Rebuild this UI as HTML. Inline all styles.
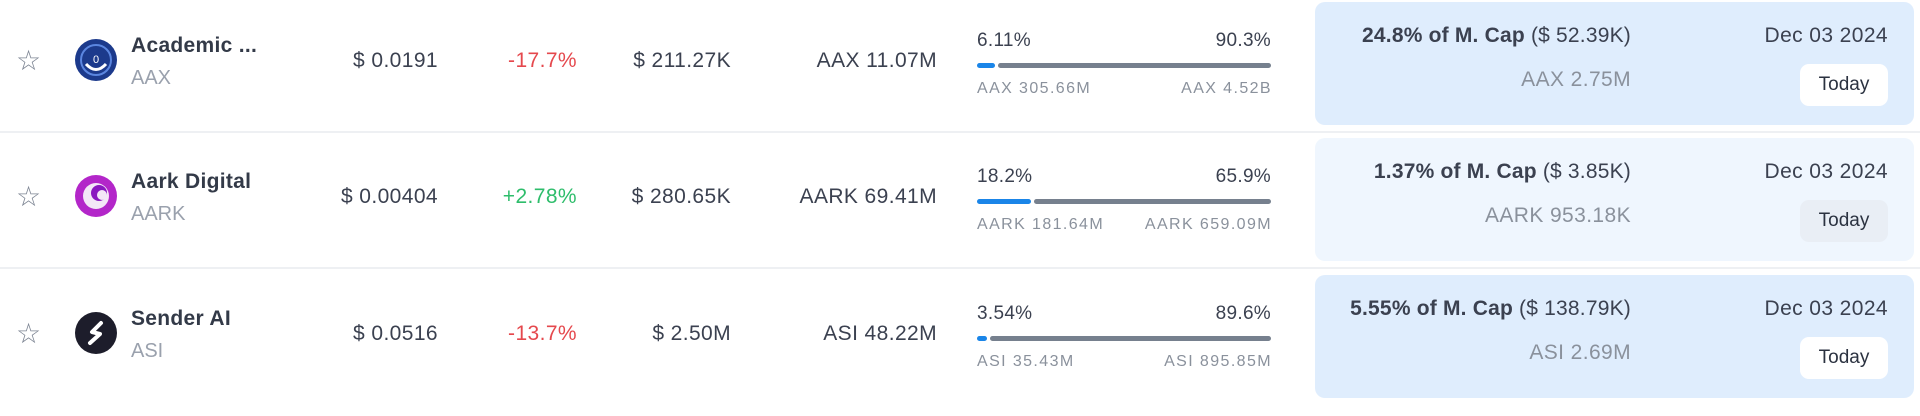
<!DOCTYPE html>
<html><head><meta charset="utf-8"><style>
body{margin:0;width:1920px;height:416px;background:#fff;font-family:"Liberation Sans",sans-serif;position:relative;overflow:hidden;color:#2b3240}
.a{position:absolute;white-space:nowrap}
.r{text-align:right}
.row{position:absolute;left:0;width:1920px;height:134px}
.div{position:absolute;left:0;width:1920px;height:2px;background:#eef0f3}
.card{position:absolute;left:1315px;width:599px;height:123px;border-radius:10px}
.btn{position:absolute;left:1800px;width:88px;height:42px;border-radius:9px;font-size:19px;line-height:42px;text-align:center;color:#2b3240}
</style></head><body>
<div id="root"></div>
<script>
const names=["Academic ...","Aark Digital","Sender AI"];
const tickers=["AAX","AARK","ASI"];
const prices=["$ 0.0191","$ 0.00404","$ 0.0516"];
const changes=["-17.7%","+2.78%","-13.7%"];
const volumes=["$ 211.27K","$ 280.65K","$ 2.50M"];
const supplies=["AAX 11.07M","AARK 69.41M","ASI 48.22M"];
const unlockedPct=[6.11,18.2,3.54];
const lockedPct=[90.3,65.9,89.6];
const unlockedAmt=["AAX 305.66M","AARK 181.64M","ASI 35.43M"];
const totalAmt=["AAX 4.52B","AARK 659.09M","ASI 895.85M"];
const capPct=["24.8%","1.37%","5.55%"];
const capVal=["($ 52.39K)","($ 3.85K)","($ 138.79K)"];
const nextAmt=["AAX 2.75M","AARK 953.18K","ASI 2.69M"];
const dates=["Dec 03 2024","Dec 03 2024","Dec 03 2024"];
const cardBg=["#dfedfd","#eff6fe","#dfedfd"];
const btnBg=["#ffffff","#e9eef5","#ffffff"];
const rowTop=[0,136,273];
const root=document.getElementById('root');
function el(p,cls,css,txt){const e=document.createElement('div');e.className=cls;e.style.cssText=css;if(txt!==undefined)e.textContent=txt;p.appendChild(e);return e;}
const icons=[
'<svg width="42" height="42" viewBox="0 0 42 42"><circle cx="21" cy="21" r="21" fill="#1c3a8c"/><circle cx="21" cy="21" r="15" fill="none" stroke="#5b86e0" stroke-width="2"/><path d="M11 25 Q21 36 31 25" stroke="#fff" stroke-width="3" fill="none"/><text x="21" y="24" font-size="11" fill="#fff" text-anchor="middle" font-family="Liberation Sans">0</text></svg>',
'<svg width="42" height="42" viewBox="0 0 42 42"><circle cx="21" cy="21" r="21" fill="#b326c9"/><circle cx="21" cy="21" r="13" fill="#f3e6f7"/><circle cx="24" cy="18" r="8" fill="#8a18c0"/><circle cx="27" cy="20" r="5" fill="#f3e6f7"/></svg>',
'<svg width="42" height="42" viewBox="0 0 42 42"><circle cx="21" cy="21" r="21" fill="#1d1d2b"/><path d="M26 11 L17 20 L25 22 L15 31" stroke="#fff" stroke-width="4" fill="none" stroke-linecap="round" stroke-linejoin="round"/></svg>'];
const BX=977,BW=294;
names.forEach((n,i)=>{
 const t=rowTop[i];
 const row=el(root,'row','top:'+t+'px');
 
 
 const card=el(row,'card','top:2px;background:'+cardBg[i]);
 
 
 const st=el(row,'a','left:16px;top:44px;font-size:28px;color:#7d8593','☆');
 
 
 const ic=el(row,'a','left:75px;top:39px;width:42px;height:42px');ic.innerHTML=icons[i];
 
 
 const nm=el(row,'a','left:131px;top:34px;font-size:21px;letter-spacing:0.3px;font-weight:bold;color:#333a48',n);
 
 
 const tk=el(row,'a','left:131px;top:67px;font-size:20px;color:#9aa1ad',tickers[i]);
 
 
 const cs='top:49px;font-size:21px;letter-spacing:0.4px;';
 const pr=el(row,'a r','right:'+(1920-438)+'px;'+cs+'color:#3b4150',prices[i]);
 
 
 const ch=el(row,'a r','right:'+(1920-577)+'px;'+cs+'color:'+(changes[i][0]=='-'?'#e5484d':'#2ebd6b'),changes[i]);
 
 
 const vo=el(row,'a r','right:'+(1920-731)+'px;'+cs+'color:#3b4150',volumes[i]);
 
 
 const su=el(row,'a r','right:'+(1920-937)+'px;'+cs+'color:#3b4150',supplies[i]);
 
 
 const p1=el(row,'a','left:'+BX+'px;top:30px;font-size:19px;letter-spacing:0.3px;color:#3b4150',unlockedPct[i]+'%');
 
 
 const p2=el(row,'a r','right:'+(1920-BX-BW)+'px;top:30px;font-size:19px;letter-spacing:0.3px;color:#3b4150',lockedPct[i]+'%');
 
 
 const bw=BW*unlockedPct[i]/100;
 const b1=el(row,'a','left:'+BX+'px;top:63px;width:'+bw+'px;height:5px;border-radius:3px;background:#1a85e8');
 
 
 const b2=el(row,'a','left:'+(BX+bw+3)+'px;top:63px;width:'+(BW-bw-3)+'px;height:5px;border-radius:3px;background:#76808e');
 
 
 const l1=el(row,'a','left:'+BX+'px;top:80px;font-size:16px;letter-spacing:1.4px;color:#8a919c',unlockedAmt[i]);
 
 
 const l2=el(row,'a r','right:'+(1920-BX-BW-1)+'px;top:80px;font-size:16px;letter-spacing:1.4px;color:#8a919c',totalAmt[i]);
 
 
 const cp=el(row,'a r','right:'+(1920-1631)+'px;top:24px;font-size:21px;letter-spacing:0.2px;color:#3b4150');
 cp.innerHTML='<b>'+capPct[i]+' of M. Cap</b> '+capVal[i];
 
 
 const na=el(row,'a r','right:'+(1920-1631)+'px;top:68px;font-size:21px;letter-spacing:0.4px;color:#8a919c',nextAmt[i]);
 
 
 const dt=el(row,'a r','right:'+(1920-1888)+'px;top:24px;font-size:21px;letter-spacing:0.4px;color:#3b4150',dates[i]);
 
 
 const bt=el(row,'btn','top:64px;background:'+btnBg[i],'Today');
 
 
 if(i<2){const d=el(root,'div','top:'+(t+131)+'px');
 
 }
});
</script>
</body></html>
